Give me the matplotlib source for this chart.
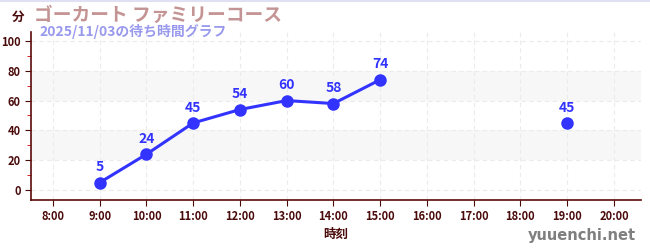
import matplotlib
matplotlib.use("Agg")
import matplotlib.pyplot as plt
from matplotlib.ticker import MultipleLocator

plt.rcParams['font.family'] = ['Noto Sans CJK JP', 'DejaVu Sans']

hours_line = [9, 10, 11, 12, 13, 14, 15]
waits_line = [5, 24, 45, 54, 60, 58, 74]
hours_single = [19]
waits_single = [45]
xticks = list(range(8, 21))
xtick_labels = [f"{h}:00" for h in xticks]
yticks = [0, 20, 40, 60, 80, 100]

title = "ゴーカート ファミリーコース"
subtitle = "2025/11/03の待ち時間グラフ"

tick_col = "#4a0a0a"
blue = "#3333ff"

fig = plt.figure(figsize=(6.5, 2.5), dpi=100)
ax = fig.add_axes([0.0477, 0.2, 0.9385, 0.672])
ax.set_xlim(7.53, 20.58)
ax.set_ylim(-6.7, 106)

for lo, hi in [(20, 40), (60, 80)]:
    ax.axhspan(lo, hi, color="#f7f7f7", zorder=0, lw=0)

ax.set_xticks(xticks)
ax.set_xticklabels(xtick_labels)
ax.set_yticks(yticks)
ax.yaxis.set_minor_locator(MultipleLocator(10))
ax.grid(True, which="major", color="#ebebeb", ls=(0, (4, 3)), lw=0.8, zorder=0)

ax.plot(hours_line, waits_line, color=blue, lw=2.2, marker="o", ms=8, zorder=3)
ax.plot(hours_single, waits_single, color=blue, lw=0, marker="o", ms=8, zorder=3)
for x, y in zip(hours_line + hours_single, waits_line + waits_single):
    ax.annotate(str(y), (x, y), xytext=(0, 6), textcoords="offset points",
                ha="center", va="bottom", color=blue, fontsize=10, fontweight="bold")

for s in ["top", "right"]:
    ax.spines[s].set_visible(False)
for s in ["left", "bottom"]:
    ax.spines[s].set_color("#5a0a0a")
    ax.spines[s].set_linewidth(1.2)

ax.tick_params(axis="both", which="major", colors=tick_col, labelsize=8, length=4)
ax.tick_params(axis="y", which="minor", colors="#cc0000", length=3)
for lab in ax.get_xticklabels() + ax.get_yticklabels():
    lab.set_fontweight("bold")
    lab.set_color(tick_col)

ax.set_xlabel("時刻", color=tick_col, fontsize=9, fontweight="bold", labelpad=3)

fig.text(0.028, 0.93, "分", color=tick_col, fontsize=9, fontweight="bold", ha="center", va="center")
fig.text(0.053, 0.94, title, color="#c49494", fontsize=13.5, fontweight="bold", ha="left", va="center")
fig.text(0.06, 0.875, subtitle, color="#9999ee", fontsize=10, fontweight="bold", ha="left", va="center")
fig.text(0.978, 0.058, "yuuenchi.net", color="#7f7f7f", fontsize=10.5, fontweight="bold", ha="right", va="center",
         family=["DejaVu Sans"])

fig.add_artist(plt.Line2D([0, 1], [0.995, 0.995], transform=fig.transFigure, color="#e0e0f4", lw=1.5))

fig.savefig("out.png", dpi=100)
